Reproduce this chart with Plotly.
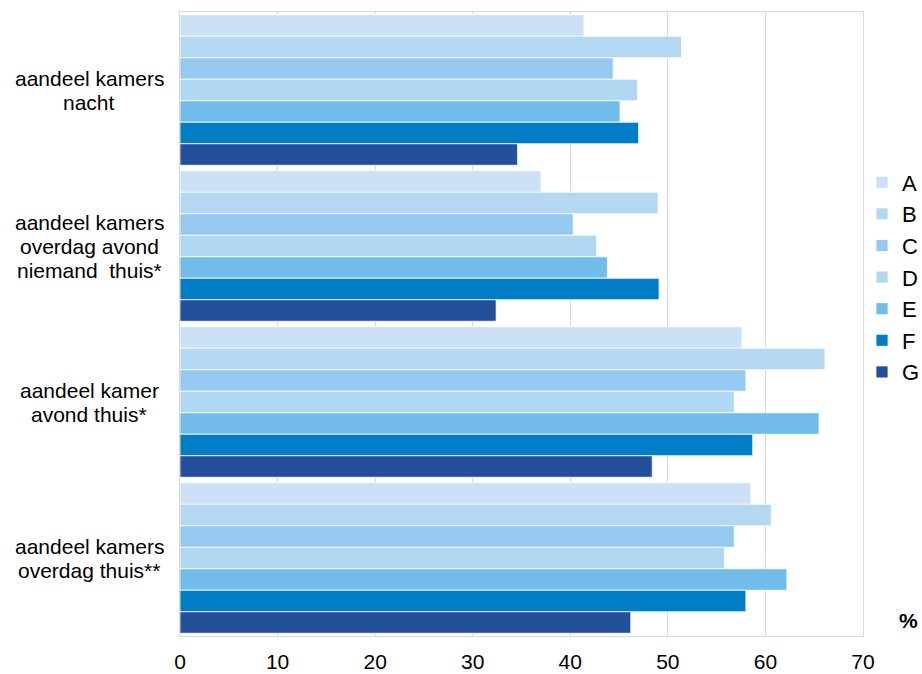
import plotly.graph_objects as go

# Categories (top to bottom) and series values in %
categories = [
    "aandeel kamers<br>nacht",
    "aandeel kamers<br>overdag avond<br>niemand  thuis*",
    "aandeel kamer<br>avond thuis*",
    "aandeel kamers<br>overdag thuis**",
]
series_names = ["A", "B", "C", "D", "E", "F", "G"]
values_A = [41.4, 37.0, 57.6, 58.5]
values_B = [51.4, 49.0, 66.1, 60.6]
values_C = [44.4, 40.3, 58.0, 56.8]
values_D = [46.9, 42.7, 56.8, 55.8]
values_E = [45.1, 43.8, 65.5, 62.2]
values_F = [47.0, 49.1, 58.7, 58.0]
values_G = [34.6, 32.4, 48.4, 46.2]
x_ticks = [0, 10, 20, 30, 40, 50, 60, 70]

series_values = [values_A, values_B, values_C, values_D, values_E, values_F, values_G]
colors = ["#CCE1F5", "#B4D7F2", "#96C9EF", "#B1D8F3", "#72BCEC", "#007DC5", "#244F9B"]

font_family = "Liberation Sans, Arial, sans-serif"
label_size = 21
line_step = 24  # px between lines of a category label

W, H = 922, 674
M_L, M_R, M_T, M_B = 180, 59, 12, 38
plot_w = W - M_L - M_R

fig = go.Figure()
for name, vals, col in zip(series_names, series_values, colors):
    fig.add_trace(go.Bar(
        name=name,
        y=categories,
        x=vals,
        orientation="h",
        marker=dict(color=col, line=dict(color="rgba(255,255,255,0.8)", width=1)),
    ))

# Centered multi-line category labels on the left (one annotation per line
# so the line spacing stays tight)
label_center_x = (89 - M_L) / plot_w
for cat in categories:
    lines = cat.split("<br>")
    n = len(lines)
    for i, line in enumerate(lines):
        fig.add_annotation(
            x=label_center_x, xref="paper", y=cat, yref="y",
            text=line, showarrow=False, xanchor="center", yanchor="middle",
            yshift=((n - 1) / 2 - i) * line_step,
            font=dict(family=font_family, size=label_size, color="#000000"),
        )

# Unit label
fig.add_annotation(
    x=(908 - M_L) / plot_w, xref="paper", y=(H - M_B - 620) / (H - M_T - M_B), yref="paper",
    text="<b>%</b>", showarrow=False, xanchor="center", yanchor="middle",
    font=dict(family=font_family, size=label_size, color="#000000"),
)

fig.update_layout(
    width=W, height=H,
    margin=dict(l=M_L, r=M_R, t=M_T, b=M_B, autoexpand=False),
    barmode="group",
    bargap=0.035,
    bargroupgap=0,
    plot_bgcolor="white",
    paper_bgcolor="white",
    font=dict(family=font_family, size=label_size, color="#000000"),
    legend=dict(
        x=(862 - M_L) / plot_w, xanchor="left",
        y=(H - M_B - 277.5) / (H - M_T - M_B), yanchor="middle",
        traceorder="normal",
        font=dict(size=22),
        itemwidth=30,
        tracegroupgap=0,
        bgcolor="rgba(0,0,0,0)",
    ),
    showlegend=True,
)
fig.update_xaxes(
    range=[0, 70], tickvals=x_ticks, ticktext=[str(t) for t in x_ticks],
    showgrid=True, gridcolor="#D9D9D9", gridwidth=1,
    showline=True, linecolor="#D9D9D9", linewidth=1, mirror=True,
    zeroline=False, ticks="", ticklabelstandoff=7,
    tickfont=dict(size=label_size),
)
fig.update_yaxes(
    autorange="reversed", showticklabels=False,
    showline=True, linecolor="#D9D9D9", linewidth=1, mirror=True,
    showgrid=False, ticks="",
)

fig.write_html("out.html")
